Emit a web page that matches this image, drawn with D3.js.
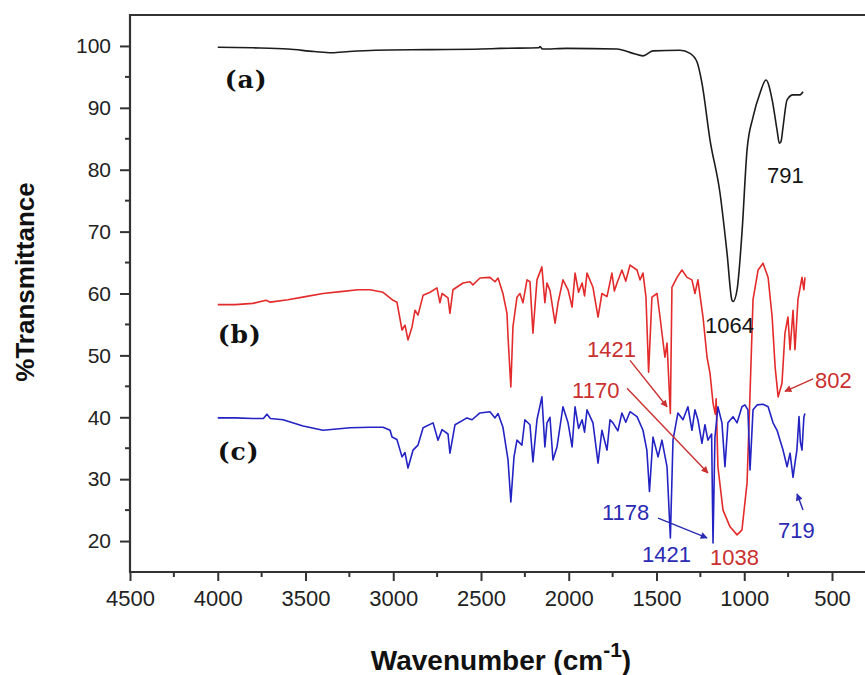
<!DOCTYPE html>
<html>
<head>
    <title>FTIR spectra</title>
    <style>
        body { margin: 0; background: #fff; }
        .tick text { font-family: "Liberation Sans", Arial, sans-serif; fill: #222; }
        .axis-title { font-family: "Liberation Sans", Arial, sans-serif; font-weight: bold; fill: #111; }
        .peak { font-family: "Liberation Sans", Arial, sans-serif; font-size: 22px; }
        .tag { font-family: "DejaVu Serif", "Liberation Serif", serif; font-weight: bold; font-size: 25px; letter-spacing: 1px; fill: #111; }
    </style>
</head>
<body>
    <div id="chart"></div>
    <script src="https://d3js.org/d3.v7.min.js"></script>
    <script>
        // spectrum (a) - [wavenumber, %T]
        const specA = [
            [4000, 99.8], [3800, 99.7], [3600, 99.5], [3450, 99.1], [3350, 98.9], [3250, 99.1],
            [3100, 99.3], [2800, 99.4], [2500, 99.5], [2392, 99.6], [2170, 99.7], [2164, 99.9],
            [2150, 99.5], [2012, 99.6], [1725, 99.5], [1634, 98.8], [1577, 98.4], [1520, 99.2],
            [1366, 99.3], [1309, 98.8], [1269, 97.4], [1241, 94.0], [1195, 84.8], [1138, 76.2],
            [1098, 66.5], [1070, 58.9], [1064, 58.7], [1041, 60.6], [1013, 69.8], [984, 83.2],
            [950, 88.5], [910, 92.4], [876, 94.5], [841, 91.3], [813, 86.4], [800, 84.3],
            [791, 84.5], [779, 86.9], [756, 91.3], [722, 92.1], [682, 92.1], [665, 92.6]
        ];

        // spectrum (b)
        const specB = [
            [4000, 58.2], [3900, 58.2], [3800, 58.4], [3725, 58.9], [3700, 58.6], [3600, 59.0],
            [3500, 59.5], [3400, 60.0], [3300, 60.3], [3200, 60.6], [3132, 60.6], [3058, 60.2],
            [3001, 58.9], [2979, 58.6], [2950, 54.1], [2933, 54.9], [2916, 52.5], [2893, 54.6],
            [2876, 57.3], [2859, 56.5], [2830, 59.7], [2790, 60.2], [2751, 60.9], [2734, 58.5],
            [2722, 60.0], [2688, 59.3], [2677, 56.8], [2660, 60.6], [2602, 61.7], [2563, 61.9],
            [2546, 61.4], [2506, 62.5], [2449, 62.6], [2420, 61.9], [2403, 62.5], [2375, 60.0],
            [2352, 56.8], [2346, 53.0], [2330, 44.9], [2318, 54.6], [2295, 59.4], [2278, 60.0],
            [2261, 58.5], [2238, 62.2], [2221, 61.9], [2204, 53.6], [2181, 62.2], [2153, 64.3],
            [2136, 58.5], [2124, 61.7], [2107, 60.5], [2078, 55.2], [2061, 58.5], [2033, 62.2],
            [2004, 60.6], [1981, 57.8], [1964, 63.3], [1944, 60.2], [1924, 61.7], [1910, 59.6],
            [1896, 63.3], [1862, 61.0], [1833, 56.2], [1811, 60.0], [1782, 59.5], [1754, 63.3],
            [1740, 60.4], [1725, 61.7], [1697, 63.8], [1675, 62.0], [1651, 64.6], [1611, 63.8],
            [1594, 62.2], [1577, 63.3], [1560, 59.4], [1545, 47.3], [1526, 59.4], [1497, 60.0],
            [1480, 56.2], [1452, 49.7], [1440, 52.0], [1421, 40.6], [1412, 61.0], [1383, 62.6],
            [1355, 63.8], [1326, 62.6], [1298, 62.2], [1281, 60.0], [1264, 62.2], [1235, 56.2],
            [1212, 49.7], [1195, 47.1], [1178, 42.3], [1165, 40.5], [1160, 43.0], [1150, 32.0],
            [1121, 25.0], [1081, 22.3], [1041, 21.0], [1013, 21.8], [984, 29.4], [967, 43.9],
            [950, 59.0], [921, 63.8], [893, 64.9], [864, 62.6], [841, 56.2], [824, 48.1],
            [807, 43.3], [785, 45.5], [768, 53.6], [751, 56.2], [739, 50.9], [722, 57.3],
            [711, 50.9], [694, 59.0], [671, 62.6], [660, 60.6], [654, 62.6]
        ];

        // spectrum (c)
        const specC = [
            [4000, 39.9], [3900, 39.9], [3800, 39.8], [3740, 39.8], [3720, 40.5], [3700, 39.8],
            [3628, 39.6], [3514, 38.6], [3400, 37.9], [3246, 38.3], [3132, 38.4], [3058, 38.4],
            [3018, 37.9], [3007, 36.8], [2979, 36.4], [2950, 33.6], [2933, 34.3], [2916, 31.8],
            [2887, 34.7], [2859, 35.5], [2830, 38.3], [2773, 39.1], [2745, 36.3], [2722, 38.0],
            [2688, 37.3], [2677, 34.2], [2648, 38.8], [2580, 39.9], [2551, 39.6], [2506, 40.7],
            [2449, 40.9], [2420, 39.9], [2403, 40.6], [2375, 38.4], [2346, 33.1], [2330, 26.3],
            [2312, 33.6], [2295, 36.3], [2267, 35.5], [2250, 39.6], [2221, 38.8], [2204, 32.8],
            [2181, 39.6], [2153, 43.3], [2136, 35.2], [2124, 39.1], [2107, 40.0], [2090, 33.1],
            [2067, 35.2], [2033, 41.7], [2004, 39.1], [1981, 35.2], [1964, 41.7], [1944, 38.2],
            [1924, 39.6], [1910, 37.6], [1896, 41.2], [1862, 39.1], [1833, 32.6], [1811, 37.9],
            [1782, 34.7], [1765, 39.6], [1748, 39.1], [1720, 37.8], [1697, 40.7], [1675, 39.2],
            [1651, 40.9], [1611, 40.1], [1577, 37.9], [1555, 34.7], [1540, 28.0], [1520, 36.8],
            [1491, 33.6], [1469, 36.3], [1440, 32.0], [1421, 20.5], [1406, 36.3], [1378, 40.7],
            [1349, 39.6], [1321, 41.7], [1298, 37.9], [1281, 41.2], [1264, 39.6], [1241, 35.8],
            [1224, 38.8], [1207, 36.3], [1186, 37.3], [1178, 19.7], [1167, 36.8], [1150, 41.7],
            [1127, 39.1], [1110, 32.0], [1093, 39.1], [1064, 40.1], [1041, 39.1], [1013, 41.7],
            [996, 42.0], [979, 41.2], [967, 31.5], [950, 41.2], [927, 42.0], [893, 42.1],
            [864, 41.7], [836, 39.1], [813, 37.9], [796, 36.3], [779, 34.7], [756, 32.0],
            [739, 34.2], [722, 30.3], [711, 32.6], [700, 34.7], [688, 40.1], [680, 36.0],
            [671, 34.7], [660, 40.1], [654, 40.6]
        ];

        const xTicks = [4500, 4000, 3500, 3000, 2500, 2000, 1500, 1000, 500];
        const yTicks = [20, 30, 40, 50, 60, 70, 80, 90, 100];

        // curve tags: text, [wavenumber, %T] of text baseline start
        const tags = [
            { text: "(a)", at: [3960, 93.2] },
            { text: "(b)", at: [4000, 52.0] },
            { text: "(c)", at: [4000, 33.1] }
        ];

        // peak labels: text, colour key, label anchor, arrow tail/head in data coords
        const peaks = [
            { text: "791", s: "a", at: [870, 77.8] },
            { text: "1064", s: "a", at: [1224, 53.6] },
            { text: "1421", s: "b", at: [1896, 49.7], from: [1651, 49.2], to: [1440, 41.7] },
            { text: "1170", s: "b", at: [1981, 43.1], from: [1668, 44.7], to: [1207, 31.0] },
            { text: "802", s: "b", at: [597, 44.7], from: [608, 46.2], to: [768, 44.2] },
            { text: "1038", s: "b", at: [1195, 16.1] },
            { text: "1178", s: "c", at: [1811, 23.4], from: [1491, 23.7], to: [1212, 20.5] },
            { text: "1421", s: "c", at: [1583, 16.6] },
            { text: "719", s: "c", at: [808, 20.5], from: [665, 25.0], to: [699, 27.6] }
        ];

        const lineColor = { a: "#1c1c1c", b: "#e32b2b", c: "#2323c4" };
        const textColor = { a: "#151515", b: "#c9302f", c: "#2b2bb3" };

        const W = 865, H = 675;
        const mLeft = 130, mTop = 15, mBottom = 572;

        const svg = d3.select("#chart").append("svg")
            .attr("width", W)
            .attr("height", H);

        const x = d3.scaleLinear().domain([4500, 500]).range([mLeft, 832]);
        const y = d3.scaleLinear().domain([15, 105]).range([mBottom, mTop]);

        const defs = svg.append("defs");
        ["b", "c"].forEach(k => {
            defs.append("marker")
                .attr("id", "arrow-" + k)
                .attr("viewBox", "0 0 10 10")
                .attr("refX", 9).attr("refY", 5)
                .attr("markerWidth", 9).attr("markerHeight", 7)
                .attr("markerUnits", "userSpaceOnUse")
                .attr("orient", "auto")
                .append("path")
                .attr("d", "M0,0 L10,5 L0,10 z")
                .attr("fill", textColor[k]);
        });

        // axes
        const xAxis = svg.append("g")
            .attr("transform", "translate(0," + mBottom + ")")
            .call(d3.axisBottom(x).tickValues(xTicks).tickSize(9).tickPadding(9).tickFormat(d3.format("d")));
        xAxis.select(".domain").remove();
        xAxis.selectAll(".tick text").attr("font-size", 22);
        xAxis.selectAll(".tick line").attr("stroke", "#333").attr("stroke-width", 2);

        const xMinor = d3.range(4250, 500, -500);
        svg.append("g").selectAll("line").data(xMinor).join("line")
            .attr("x1", d => x(d)).attr("x2", d => x(d))
            .attr("y1", mBottom).attr("y2", mBottom + 5)
            .attr("stroke", "#333").attr("stroke-width", 2);

        const yAxis = svg.append("g")
            .attr("transform", "translate(" + mLeft + ",0)")
            .call(d3.axisLeft(y).tickValues(yTicks).tickSize(10).tickPadding(9));
        yAxis.select(".domain").remove();
        yAxis.selectAll(".tick text").attr("font-size", 21);
        yAxis.selectAll(".tick line").attr("stroke", "#333").attr("stroke-width", 2);

        const yMinor = d3.range(25, 100, 10);
        svg.append("g").selectAll("line").data(yMinor).join("line")
            .attr("x1", mLeft - 5).attr("x2", mLeft)
            .attr("y1", d => y(d)).attr("y2", d => y(d))
            .attr("stroke", "#333").attr("stroke-width", 2);

        // frame: left, bottom, top
        svg.append("path")
            .attr("d", "M" + W + "," + mTop + "H" + mLeft + "V" + mBottom + "H" + W)
            .attr("fill", "none")
            .attr("stroke", "#333")
            .attr("stroke-width", 2.2);

        // spectra - (a) is a smooth trace, (b) and (c) are sharp
        const smooth = d3.line().x(d => x(d[0])).y(d => y(d[1])).curve(d3.curveMonotoneX);
        const sharp = d3.line().x(d => x(d[0])).y(d => y(d[1]));
        [["a", specA, smooth], ["b", specB, sharp], ["c", specC, sharp]].forEach(([k, data, gen]) => {
            svg.append("path")
                .datum(data)
                .attr("d", gen)
                .attr("fill", "none")
                .attr("stroke", lineColor[k])
                .attr("stroke-width", 1.6)
                .attr("stroke-linejoin", "round");
        });

        // curve tags
        svg.selectAll(".tag").data(tags).join("text")
            .attr("class", "tag")
            .attr("x", d => x(d.at[0]))
            .attr("y", d => y(d.at[1]))
            .text(d => d.text);

        // arrows
        svg.append("g").selectAll("line").data(peaks.filter(p => p.from)).join("line")
            .attr("x1", d => x(d.from[0])).attr("y1", d => y(d.from[1]))
            .attr("x2", d => x(d.to[0])).attr("y2", d => y(d.to[1]))
            .attr("stroke", d => textColor[d.s])
            .attr("stroke-width", 1.4)
            .attr("marker-end", d => "url(#arrow-" + d.s + ")");

        // peak labels
        svg.append("g").selectAll("text").data(peaks).join("text")
            .attr("class", "peak")
            .attr("x", d => x(d.at[0]))
            .attr("y", d => y(d.at[1]))
            .attr("fill", d => textColor[d.s])
            .text(d => d.text);

        // axis titles
        svg.append("text")
            .attr("class", "axis-title")
            .attr("transform", "translate(34,282) rotate(-90)")
            .attr("text-anchor", "middle")
            .attr("font-size", 26)
            .text("%Transmittance");

        const xt = svg.append("text")
            .attr("class", "axis-title")
            .attr("x", 501)
            .attr("y", 670)
            .attr("text-anchor", "middle")
            .attr("font-size", 28);
        xt.append("tspan").text("Wavenumber (cm");
        xt.append("tspan").attr("dy", -13).attr("font-size", 21).text("-1");
        xt.append("tspan").attr("dy", 13).text(")");
    </script>
</body>
</html>
